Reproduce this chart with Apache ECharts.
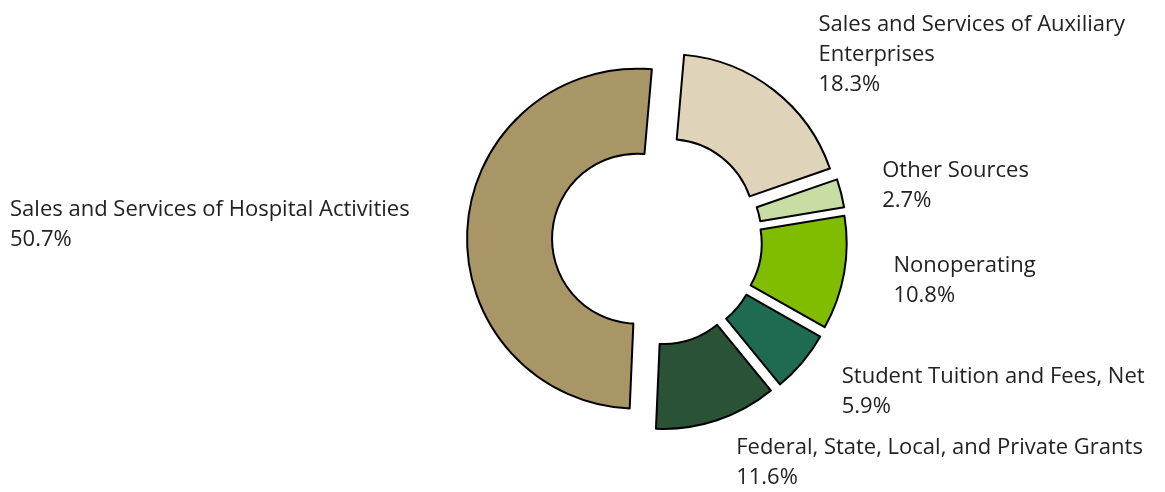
<!DOCTYPE html>
<html>
<head>
<meta charset="utf-8">
<style>
  html, body { margin: 0; padding: 0; background: #fff; }
  #chart { width: 1165px; height: 492px; }
</style>
<script src="https://cdn.jsdelivr.net/npm/echarts@6/dist/echarts.min.js"></script>
</head>
<body>
<div id="chart"></div>
<script>
// revenue sources, share of total (%)
const categories = [
  'Sales and Services of Auxiliary Enterprises',
  'Other Sources',
  'Nonoperating',
  'Student Tuition and Fees, Net',
  'Federal, State, Local, and Private Grants',
  'Sales and Services of Hospital Activities'
]
const shares = [18.3, 2.7, 10.8, 5.9, 11.6, 50.7]
const colors = ['#dfd3ba', '#c8dda4', '#80bc00', '#1e6b51', '#2a5236', '#a99667']

const chart = echarts.init(document.getElementById('chart'))

chart.setOption({
  animation: false,
  series: [
    {
      type: 'pie',
      center: [657, 240],
      radius: [85, 170],
      startAngle: 85,
      clockwise: true,
      percentPrecision: 1,
      selectedMode: 'multiple',
      selectedOffset: 20,
      itemStyle: {
        borderColor: '#000',
        borderWidth: 2
      },
      label: {
        show: true,
        position: 'outside',
        formatter: '{b}\n{d}%',
        fontFamily: 'Open Sans',
        fontSize: 22,
        lineHeight: 30,
        color: '#222',
        overflow: 'none',
        bleedMargin: 0,
        distanceToLabelLine: 5
      },
      labelLine: {
        show: false,
        length: 45,
        length2: 0
      },
      emphasis: { disabled: true },
      data: categories.map((name, i) => {
        const item = {
          name,
          value: shares[i],
          selected: true,
          itemStyle: { color: colors[i] },
          label: { width: 440 }
        }
        if (i === 0) {
          item.label = { width: 335, overflow: 'break' }
          item.labelLine = { length2: 12 }
        }
        if (i === 1) {
          item.labelLine = { length: 30, length2: 7 }
        }
        if (i === 5) {
          item.label = { alignTo: 'edge', edgeDistance: 30, width: 440 }
        }
        return item
      })
    }
  ]
})
</script>
</body>
</html>
